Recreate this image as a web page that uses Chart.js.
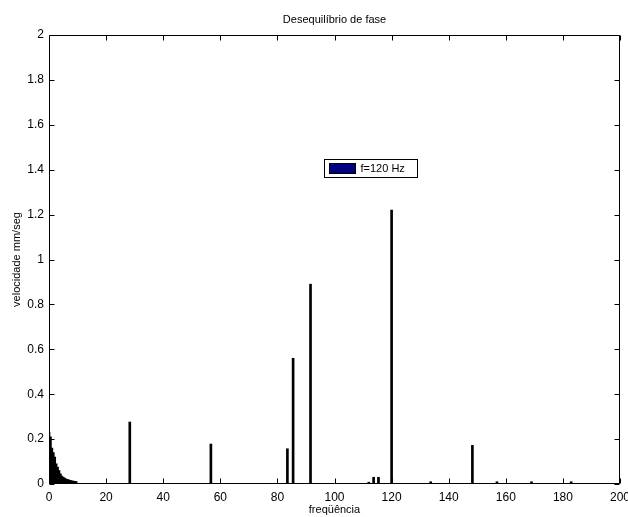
<!DOCTYPE html>
<html>
<head>
<meta charset="utf-8">
<script src="https://cdn.jsdelivr.net/npm/chart.js@4/dist/chart.umd.min.js"></script>
<style>
  html, body { margin: 0; padding: 0; background: #fff; }
  canvas { display: block; }
</style>
</head>
<body>
<canvas id="c" width="628" height="517"></canvas>
<script>
// Spectrum of vibration velocity (mm/seg) versus frequency (Hz)
const lowFreq = [0, 0.5, 1, 1.5, 2, 2.5, 3, 3.5, 4, 4.5, 5, 5.5, 6, 6.5, 7, 7.5, 8, 8.5, 9, 9.5];
const lowVel  = [0.23, 0.21, 0.16, 0.14, 0.12, 0.09, 0.075, 0.06, 0.045, 0.035, 0.03, 0.026, 0.022, 0.02, 0.018, 0.016, 0.014, 0.013, 0.012, 0.011];

const peakFreq = [28.3, 56.7, 83.5, 85.5, 91.6, 112, 113.7, 115.4, 120, 133.7, 148.3, 156.9, 169, 182.9];
const peakVel  = [0.276, 0.178, 0.157, 0.56, 0.89, 0.008, 0.03, 0.03, 1.22, 0.01, 0.172, 0.01, 0.01, 0.01];

const xTicks = [0, 20, 40, 60, 80, 100, 120, 140, 160, 180, 200];
const yTicks = [0, 0.2, 0.4, 0.6, 0.8, 1, 1.2, 1.4, 1.6, 1.8, 2];

const seriesLabel = 'f=120 Hz';
const titleText = 'Desequilíbrio de fase';
const xTitle = 'freqüência';
const yTitle = 'velocidade mm/seg';
const legendPatch = '#000080';

const points = lowFreq.map((f, i) => ({ x: f, y: lowVel[i] }))
  .concat(peakFreq.map((f, i) => ({ x: f, y: peakVel[i] })));

const FONT = "'Liberation Sans', Arial, Helvetica, sans-serif";

// box around the axes with inward tick marks on all four sides
const framePlugin = {
  id: 'frame',
  afterDatasetsDraw(chart) {
    const { ctx, chartArea: a, scales } = chart;
    const L = a.left + 0.5, R = a.right - 0.5, T = a.top + 0.5, B = a.bottom - 0.5;
    const len = 5;
    ctx.save();
    ctx.strokeStyle = '#000';
    ctx.lineWidth = 1;
    ctx.beginPath();
    ctx.rect(L, T, R - L, B - T);
    xTicks.forEach(v => {
      const px = Math.round(scales.x.getPixelForValue(v)) + 0.5;
      ctx.moveTo(px, B); ctx.lineTo(px, B - len);
      ctx.moveTo(px, T); ctx.lineTo(px, T + len);
    });
    yTicks.forEach(v => {
      const py = Math.round(scales.y.getPixelForValue(v)) + 0.5;
      ctx.moveTo(L, py); ctx.lineTo(L + len, py);
      ctx.moveTo(R, py); ctx.lineTo(R - len, py);
    });
    ctx.stroke();
    ctx.restore();
  }
};

// legend box placed inside the axes
const legendPlugin = {
  id: 'boxLegend',
  afterDraw(chart) {
    const { ctx, chartArea: a } = chart;
    const ds = chart.data.datasets[0];
    const x0 = Math.round(a.left + 0.4816 * a.width) + 0.5;
    const y0 = Math.round(a.top + 0.276 * a.height) + 0.5;
    const w = 93, h = 18;
    ctx.save();
    ctx.fillStyle = '#fff';
    ctx.fillRect(x0, y0, w, h);
    ctx.strokeStyle = '#000';
    ctx.lineWidth = 1;
    ctx.strokeRect(x0, y0, w, h);
    ctx.fillStyle = legendPatch;
    ctx.fillRect(x0 + 5, y0 + 4, 26, 10);
    ctx.strokeRect(x0 + 5, y0 + 4, 26, 10);
    ctx.fillStyle = '#000';
    ctx.font = '11px ' + FONT;
    ctx.textBaseline = 'middle';
    ctx.textAlign = 'left';
    ctx.fillText(ds.label, x0 + 36, y0 + h / 2 + 0.5);
    ctx.restore();
  }
};

new Chart(document.getElementById('c'), {
  type: 'bar',
  data: {
    datasets: [{
      label: seriesLabel,
      data: points,
      backgroundColor: '#000',
      borderWidth: 0,
      barThickness: 2,
      grouped: false
    }]
  },
  options: {
    responsive: false,
    animation: false,
    layout: { padding: { left: 0, right: 8, top: 0, bottom: 0 } },
    plugins: {
      legend: { display: false },
      tooltip: { enabled: false },
      title: { display: false }
    },
    scales: {
      x: {
        type: 'linear',
        offset: false,
        min: 0, max: 200,
        afterBuildTicks: s => { s.ticks = xTicks.map(v => ({ value: v })); },
        afterFit: s => { s.height = 33; s.paddingLeft = 0; s.paddingRight = 0; },
        grid: { display: false, drawTicks: false, offset: false },
        border: { display: false },
        ticks: { color: '#000', font: { family: FONT, size: 12 }, padding: 6, maxRotation: 0, autoSkip: false },
        title: { display: true, text: xTitle, color: '#000', font: { family: FONT, size: 11 }, padding: { top: 0, bottom: 0 } }
      },
      // top axis only carries the chart title, centred over the plot box
      xTop: {
        type: 'linear',
        position: 'top',
        offset: false,
        min: 0, max: 200,
        afterFit: s => { s.height = 35; s.paddingLeft = 0; s.paddingRight = 0; },
        grid: { display: false, drawTicks: false },
        border: { display: false },
        ticks: { display: false },
        title: { display: true, text: titleText, color: '#000', font: { family: FONT, size: 11 }, padding: { top: 13.4, bottom: 0 } }
      },
      y: {
        type: 'linear',
        min: 0, max: 2,
        afterBuildTicks: s => { s.ticks = yTicks.map(v => ({ value: v })); },
        afterFit: s => { s.width = 49; },
        grid: { display: false, drawTicks: false },
        border: { display: false },
        ticks: { color: '#000', font: { family: FONT, size: 12 }, padding: 5,
                 callback: v => String(Math.round(v * 10) / 10) },
        title: { display: true, text: yTitle, color: '#000', font: { family: FONT, size: 11 }, padding: { top: 10, bottom: 0 } }
      }
    }
  },
  plugins: [framePlugin, legendPlugin]
});
</script>
</body>
</html>
